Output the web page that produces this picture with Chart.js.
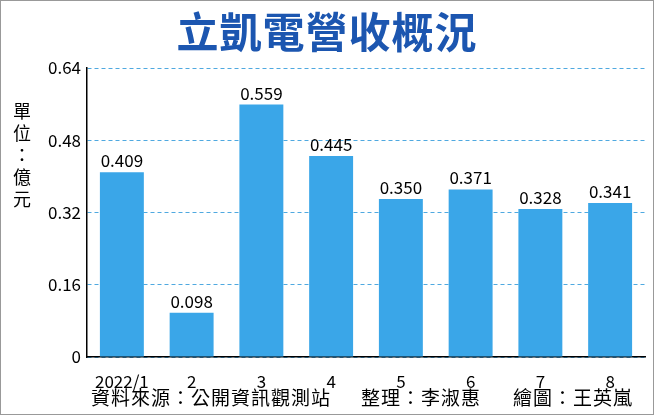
<!DOCTYPE html>
<html><head><meta charset="utf-8">
<script src="https://cdn.jsdelivr.net/npm/chart.js@4"></script>
<style>
body{margin:0;width:656px;height:417px;overflow:hidden;background:#fff;font-family:"Noto Sans CJK TC",sans-serif}
#wrap{position:relative;width:654px;height:415px;border:1px solid #999;box-sizing:border-box}
#t{position:absolute;left:0;width:100%;top:-2px;text-align:center;font-size:42px;font-weight:bold;color:#1c56b0;letter-spacing:1px}
#u{position:absolute;left:10px;top:98px;width:22px;font-size:18px;line-height:22px;color:#000;text-align:center}
#f{position:absolute;top:382px;font-size:19px;color:#000;white-space:nowrap;letter-spacing:1px}
canvas{position:absolute;left:0;top:0}
</style></head><body>
<div id="wrap">
<canvas id="c" width="656" height="417"></canvas>
<div id="t">立凱電營收概況</div>
<div id="u">單<br>位<br>：<br>億<br>元</div>
<div id="f" style="left:90px">資料來源：公開資訊觀測站</div>
<div id="f" style="left:360px">整理：李淑惠</div>
<div id="f" style="left:512px">繪圖：王英嵐</div>
</div>
<script>
const categories=["2022/1","2","3","4","5","6","7","8"];
const revenue=[0.409,0.098,0.559,0.445,0.350,0.371,0.328,0.341];
const yTicks=[0,0.16,0.32,0.48,0.64];
const labelPlugin={id:'lbl',afterDatasetsDraw(ch){const c=ch.ctx;const m=ch.getDatasetMeta(0);c.save();c.font='17px "Noto Sans CJK TC", sans-serif';c.fillStyle='#000';c.textAlign='center';c.textBaseline='bottom';m.data.forEach((b,i)=>c.fillText(revenue[i].toFixed(3),b.x,b.y-3));c.restore();}};
new Chart(document.getElementById('c'),{type:'bar',
data:{labels:categories,datasets:[{data:revenue,backgroundColor:'#3aa6e8',barPercentage:0.63,categoryPercentage:1}]},
options:{responsive:false,animation:false,events:[],
layout:{padding:{left:0,right:12,top:67,bottom:0}},
plugins:{legend:{display:false},tooltip:{enabled:false}},
scales:{
y:{min:0,max:0.64,afterBuildTicks(s){s.ticks=yTicks.map(v=>({value:v}));},afterFit(s){s.width=86;},
ticks:{callback:v=>v===0?'0':v.toFixed(2),color:'#000',font:{size:17,family:'Noto Sans CJK TC'},padding:6},
grid:{color:'#4fa9e0',drawTicks:false},border:{color:'#000',width:1.5,dash:[4,3]}},
x:{afterFit(s){s.height=61;},ticks:{color:'#000',font:{size:17,family:'Noto Sans CJK TC'},padding:6},
grid:{display:false},border:{color:'#000',width:1.5}}}},
plugins:[labelPlugin]});
</script></body></html>
